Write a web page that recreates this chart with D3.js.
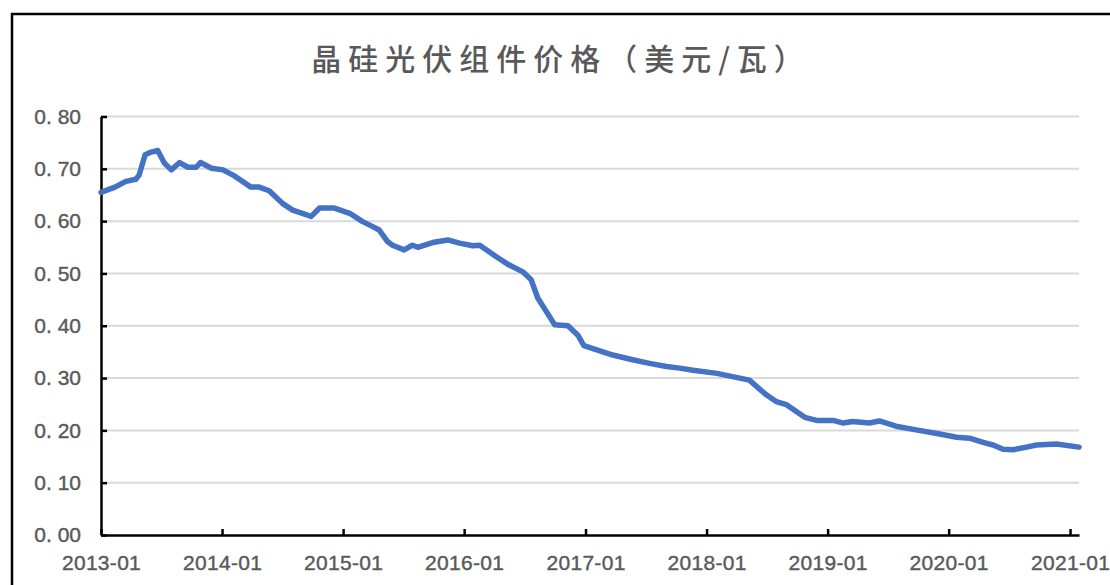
<!DOCTYPE html>
<html>
<head>
<meta charset="utf-8">
<script src="https://cdn.jsdelivr.net/npm/d3@7"></script>
<style>
  html, body { margin: 0; padding: 0; background: #fff; overflow: hidden; }
  .tick text { font-family: "Liberation Sans", Arial, sans-serif; }
</style>
</head>
<body>
<div id="chart"></div>
<script>
// price series (USD / W)
const dates = [
  "2013-01-01", "2013-02-12", "2013-03-17", "2013-04-16", "2013-04-26", "2013-05-14",
  "2013-06-01", "2013-06-21", "2013-07-11", "2013-08-01", "2013-08-26", "2013-09-20",
  "2013-10-15", "2013-10-28", "2013-11-30", "2014-01-04", "2014-02-03", "2014-03-29",
  "2014-04-23", "2014-05-23", "2014-07-02", "2014-08-02", "2014-09-27", "2014-10-22",
  "2014-12-06", "2015-01-21", "2015-03-01", "2015-03-30", "2015-04-20", "2015-05-15",
  "2015-05-30", "2015-07-04", "2015-07-29", "2015-08-14", "2015-09-28", "2015-11-13",
  "2015-12-18", "2016-01-27", "2016-02-17", "2016-04-07", "2016-05-16", "2016-06-26",
  "2016-07-21", "2016-08-10", "2016-09-05", "2016-09-30", "2016-11-09", "2016-12-09",
  "2016-12-27", "2017-02-04", "2017-03-24", "2017-05-23", "2017-07-13", "2017-09-02",
  "2017-10-12", "2017-11-21", "2018-02-01", "2018-05-10", "2018-06-30", "2018-07-30",
  "2018-08-30", "2018-10-24", "2018-11-29", "2019-01-18", "2019-02-17", "2019-03-17",
  "2019-05-07", "2019-06-06", "2019-07-26", "2019-09-25", "2019-12-05", "2020-01-25",
  "2020-03-04", "2020-04-14", "2020-05-14", "2020-06-13", "2020-07-13", "2020-08-23",
  "2020-09-22", "2020-11-21", "2021-01-28"
];
const prices = [
  0.655, 0.665, 0.676, 0.680, 0.688, 0.727,
  0.732, 0.735, 0.711, 0.698, 0.712, 0.703,
  0.703, 0.712, 0.701, 0.698, 0.688, 0.665,
  0.665, 0.658, 0.634, 0.621, 0.609, 0.625,
  0.625, 0.615, 0.599, 0.590, 0.583, 0.561,
  0.554, 0.545, 0.554, 0.550, 0.559, 0.564,
  0.558, 0.553, 0.554, 0.532, 0.516, 0.503,
  0.488, 0.453, 0.427, 0.402, 0.400, 0.382,
  0.362, 0.354, 0.344, 0.335, 0.328, 0.322,
  0.319, 0.315, 0.309, 0.296, 0.268, 0.255,
  0.249, 0.225, 0.219, 0.219, 0.214, 0.217,
  0.214, 0.218, 0.208, 0.201, 0.193, 0.187,
  0.185, 0.177, 0.172, 0.164, 0.163, 0.168,
  0.172, 0.174, 0.168
];

const yTicks = [0, 0.1, 0.2, 0.3, 0.4, 0.5, 0.6, 0.7, 0.8];
const yTickLabels = ["0. 00", "0. 10", "0. 20", "0. 30", "0. 40", "0. 50", "0. 60", "0. 70", "0. 80"];
const xTickLabels = ["2013-01", "2014-01", "2015-01", "2016-01", "2017-01", "2018-01", "2019-01", "2020-01", "2021-01"];
const title = "晶硅光伏组件价格（美元/瓦）";

const width = 1110, height = 585;
const parse = d3.timeParse("%Y-%m-%d");
const parseMonth = d3.timeParse("%Y-%m");

const data = dates.map((d, i) => ({date: parse(d), value: prices[i]}));

const x = d3.scaleTime()
  .domain([parse("2013-01-01"), parse("2021-01-28")])
  .range([101, 1079]);

const y = d3.scaleLinear()
  .domain([0, 0.8])
  .range([535, 116.5]);

const svg = d3.select("#chart").append("svg")
  .attr("width", width)
  .attr("height", height);

// outer frame (runs off the right / bottom edge)
svg.append("rect")
  .attr("x", 12)
  .attr("y", 14)
  .attr("width", 1200)
  .attr("height", 700)
  .attr("fill", "none")
  .attr("stroke", "#000")
  .attr("stroke-width", 2.5);

svg.append("text")
  .attr("x", 561)
  .attr("y", 70)
  .attr("text-anchor", "middle")
  .attr("font-family", "'Noto Sans CJK SC', sans-serif")
  .attr("font-size", 30)
  .attr("font-weight", 500)
  .attr("letter-spacing", 7)
  .attr("fill", "#595959")
  .text(title);

// gridlines
svg.append("g")
  .selectAll("line")
  .data(yTicks.filter(d => d > 0))
  .join("line")
    .attr("x1", x.range()[0])
    .attr("x2", x.range()[1])
    .attr("y1", d => y(d))
    .attr("y2", d => y(d))
    .attr("stroke", "#d9d9d9")
    .attr("stroke-width", 2);

const yAxis = d3.axisLeft(y)
  .tickValues(yTicks)
  .tickFormat((d, i) => yTickLabels[i])
  .tickSize(-6)
  .tickPadding(20);

const xAxis = d3.axisBottom(x)
  .tickValues(xTickLabels.map(parseMonth))
  .tickFormat((d, i) => xTickLabels[i])
  .tickSize(-6)
  .tickPadding(20);

const styleAxis = g => {
  g.select(".domain").attr("stroke", "#000").attr("stroke-width", 2.5);
  g.selectAll(".tick line").attr("stroke", "#000").attr("stroke-width", 2.5);
  g.selectAll(".tick text")
    .attr("fill", "#595959")
    .attr("font-size", 21)
    .attr("stroke", "#595959")
    .attr("stroke-width", 0.4);
};

svg.append("g")
  .attr("transform", `translate(${x.range()[0]},0)`)
  .call(yAxis.tickSizeOuter(0))
  .call(styleAxis);

svg.append("g")
  .attr("transform", `translate(0,${y(0)})`)
  .call(xAxis.tickSizeOuter(0))
  .call(styleAxis)
  .selectAll(".tick text")
    .attr("letter-spacing", 0.3);

const line = d3.line()
  .x(d => x(d.date))
  .y(d => y(d.value));

svg.append("path")
  .datum(data)
  .attr("fill", "none")
  .attr("stroke", "#4472c4")
  .attr("stroke-width", 5.5)
  .attr("stroke-linejoin", "round")
  .attr("stroke-linecap", "round")
  .attr("d", line);
</script>
</body>
</html>
